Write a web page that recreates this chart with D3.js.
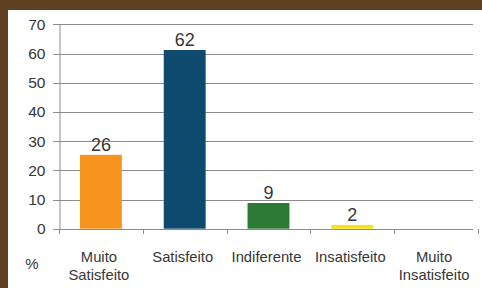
<!DOCTYPE html>
<html><head><meta charset="utf-8">
<script src="https://cdn.jsdelivr.net/npm/d3@7"></script>
<style>
html,body{margin:0;padding:0;background:#fff;}
svg{display:block;}
text{font-family:"Liberation Sans",Arial,sans-serif;fill:#363636;}
</style></head>
<body>
<svg id="c" width="482" height="288"></svg>
<script>
const categories = [["Muito","Satisfeito"],["Satisfeito"],["Indiferente"],["Insatisfeito"],["Muito","Insatisfeito"]];
const values = [25.3, 61.2, 8.8, 1.3, 0];
const valueLabels = ["26", "62", "9", "2", ""];
const barColors = ["#f7941d", "#0e4a6e", "#2c7a36", "#f6e412", "#cccccc"];
const yTicks = [0, 10, 20, 30, 40, 50, 60, 70];

(function(){
const svg = d3.select("#c");
const W = 482, H = 288;
// frame
svg.append("rect").attr("x",0).attr("y",0).attr("width",W).attr("height",H).attr("fill","#5e4120");
svg.append("rect").attr("x",8).attr("y",10).attr("width",W-8).attr("height",H-10).attr("fill","#ffffff");

const pl = 59, pr = 478, pt = 24.3, pb = 228.7;
const x = d3.scaleBand().domain(d3.range(categories.length)).range([pl, pr]).paddingInner(0.5).paddingOuter(0.25);
const xb = d3.scaleBand().domain(d3.range(categories.length)).range([pl, pr]);
const y = d3.scaleLinear().domain([0, 70]).range([pb, pt]);

// gridlines
svg.append("g").selectAll("line").data(yTicks).join("line")
  .attr("x1", pl - 6).attr("x2", 473)
  .attr("y1", d => Math.round(y(d)) + 0.5).attr("y2", d => Math.round(y(d)) + 0.5)
  .attr("stroke", "#8c8c8c").attr("stroke-width", 1);

// y axis
const yAxis = d3.axisLeft(y).tickValues(yTicks).tickSize(0).tickPadding(14);
const ya = svg.append("g").attr("transform", `translate(${pl + 0.5},0)`).call(yAxis);
ya.select(".domain").attr("stroke", "#8c8c8c");
ya.selectAll("text").style("font-size", "15.5px").attr("fill", "#363636");

// category ticks
svg.append("g").selectAll("line").data(d3.range(categories.length + 1)).join("line")
  .attr("x1", i => Math.round(pl + i * xb.bandwidth()) + 0.5)
  .attr("x2", i => Math.round(pl + i * xb.bandwidth()) + 0.5)
  .attr("y1", Math.round(pb)).attr("y2", Math.round(pb) + 5)
  .attr("stroke", "#8c8c8c");

// bars
svg.append("g").selectAll("rect").data(values).join("rect")
  .attr("x", (d, i) => x(i)).attr("width", x.bandwidth())
  .attr("y", d => y(d)).attr("height", d => y(0) - y(d))
  .attr("fill", (d, i) => barColors[i]);

// value labels
svg.append("g").selectAll("text").data(valueLabels).join("text")
  .attr("x", (d, i) => x(i) + x.bandwidth() / 2)
  .attr("y", (d, i) => y(values[i]) - 4)
  .attr("text-anchor", "middle")
  .style("font-size", "18px")
  .text(d => d);

// category labels
const cl = svg.append("g").selectAll("text").data(categories).join("text")
  .attr("text-anchor", "middle")
  .attr("transform", (d, i) => `translate(${xb(i) + xb.bandwidth() / 2 - 2},262)`)
  .style("font-size", "14.8px");
cl.selectAll("tspan").data(d => d).join("tspan")
  .attr("x", 0).attr("y", (d, j) => j * 18).text(d => d);

svg.append("text").attr("x", 32).attr("y", 269).attr("text-anchor", "middle")
  .style("font-size", "15px").text("%");
})();
</script>
</body></html>
